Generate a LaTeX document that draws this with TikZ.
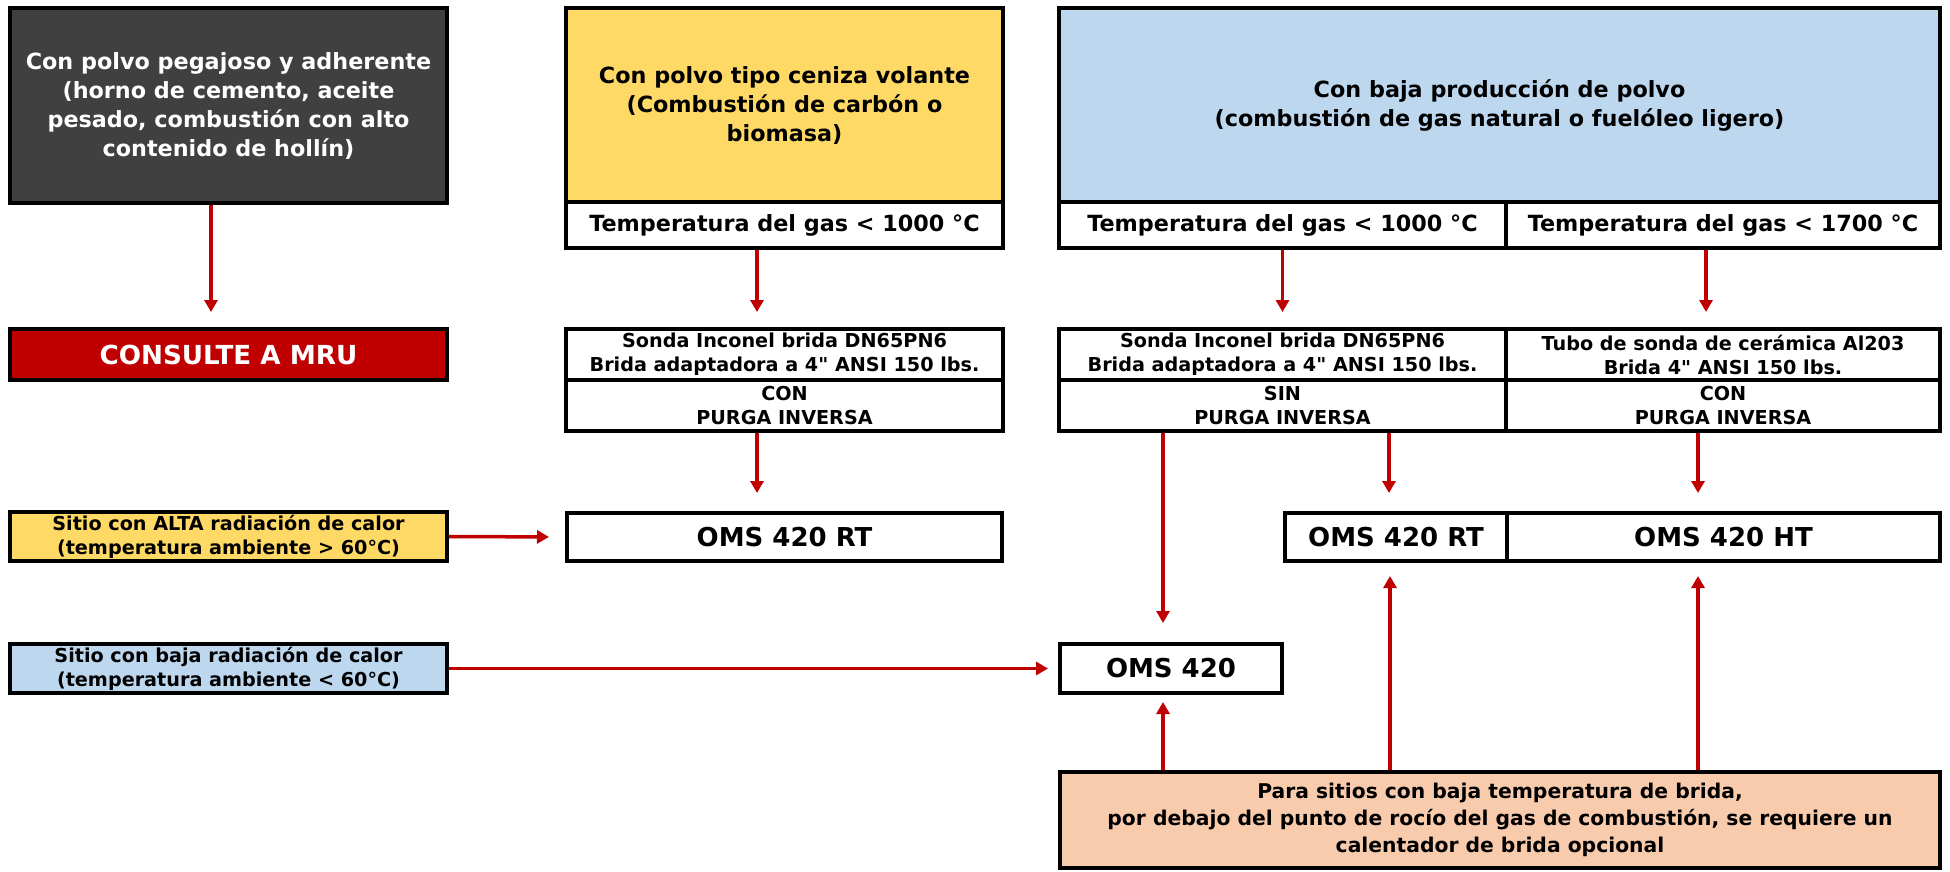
\documentclass[tikz,border=0pt]{standalone}
\usepackage{fontspec}
\setmainfont{DejaVu Sans}
\newfontfamily\qfont{DejaVu Sans}
\newcommand{\dq}{{\qfont\symbol{34}}}
\usetikzlibrary{arrows.meta}
\definecolor{cdark}{HTML}{404040}
\definecolor{cyellow}{HTML}{FFD966}
\definecolor{cblue}{HTML}{BDD7EE}
\definecolor{cred}{HTML}{C00000}
\definecolor{cpeach}{HTML}{F8CBAD}
\tikzset{
  box/.style={draw=black, line width=4pt, inner sep=1pt, align=center, anchor=center},
  fbig/.style={font=\fontsize{22.3}{29}\selectfont\bfseries},
  fmid/.style={font=\fontsize{19.2}{24}\selectfont\bfseries},
  foms/.style={font=\fontsize{26}{30}\selectfont\bfseries},
  arr/.style={draw=cred, line width=3.5pt, -{Triangle[width=13pt,length=12pt]}},
}
\begin{document}
\begin{tikzpicture}[x=1pt,y=-1pt]
\useasboundingbox (0,0) rectangle (1950,872);
% column 1
\node[box, fbig, fill=cdark, text=white, minimum width=437pt, minimum height=195pt] (dark) at (228.5,105.5)
  {Con polvo pegajoso y adherente\\(horno de cemento, aceite\\pesado, combustión con alto\\contenido de hollín)};
\node[box, font=\fontsize{26.2}{30}\selectfont\bfseries, fill=cred, text=white, minimum width=437pt, minimum height=51pt] (mru) at (228.5,354.5) {CONSULTE A MRU};
\node[box, fmid, fill=cyellow, minimum width=437pt, minimum height=49pt] (alta) at (228.5,536.5)
  {Sitio con ALTA radiación de calor\\(temperatura ambiente > 60°C)};
\node[box, fmid, fill=cblue, minimum width=437pt, minimum height=49pt] (baja) at (228.5,668.5)
  {Sitio con baja radiación de calor\\(temperatura ambiente < 60°C)};
% column 2
\node[box, fbig, fill=cyellow, minimum width=437pt, minimum height=194pt] (ytop) at (784.5,105)
  {Con polvo tipo ceniza volante\\(Combustión de carbón o\\biomasa)};
\node[box, fbig, fill=white, minimum width=437pt, minimum height=46pt] (ytemp) at (784.5,225)
  {Temperatura del gas < 1000 °C};
\node[box, fmid, fill=white, minimum width=437pt, minimum height=51pt] (sonda1) at (784.5,354.5)
  {Sonda Inconel brida DN65PN6\\Brida adaptadora a 4\dq{} ANSI 150 lbs.};
\node[box, fmid, fill=white, minimum width=437pt, minimum height=51pt] (con1) at (784.5,405.5)
  {CON\\PURGA INVERSA};
\node[box, foms, fill=white, minimum width=435pt, minimum height=48pt] (rt1) at (784.5,537) {OMS 420 RT};
% column 3
\node[box, fbig, fill=cblue, minimum width=881pt, minimum height=194pt] (btop) at (1499.5,105)
  {Con baja producción de polvo\\(combustión de gas natural o fuelóleo ligero)};
\node[box, fbig, fill=white, minimum width=447pt, minimum height=46pt] (btemp1) at (1282.5,225)
  {Temperatura del gas < 1000 °C};
\node[box, fbig, fill=white, minimum width=434pt, minimum height=46pt] (btemp2) at (1723,225)
  {Temperatura del gas < 1700 °C};
\node[box, fmid, fill=white, minimum width=447pt, minimum height=51pt] (sonda2) at (1282.5,354.5)
  {Sonda Inconel brida DN65PN6\\Brida adaptadora a 4\dq{} ANSI 150 lbs.};
\node[box, fmid, fill=white, minimum width=447pt, minimum height=51pt] (sin) at (1282.5,405.5)
  {SIN\\PURGA INVERSA};
\node[box, fmid, fill=white, minimum width=434pt, minimum height=51pt] (tubo) at (1723,354.5)
  {Tubo de sonda de cerámica Al203\\Brida 4\dq{} ANSI 150 lbs.};
\node[box, fmid, fill=white, minimum width=434pt, minimum height=51pt] (con2) at (1723,405.5)
  {CON\\PURGA INVERSA};
\node[box, foms, fill=white, minimum width=222pt, minimum height=48pt] (rt2) at (1396,537) {OMS 420 RT};
\node[box, foms, fill=white, minimum width=433pt, minimum height=48pt] (ht) at (1723.5,537) {OMS 420 HT};
\node[box, foms, fill=white, minimum width=222pt, minimum height=49pt] (oms) at (1171,668.5) {OMS 420};
\node[box, font=\fontsize{20.3}{27}\selectfont\bfseries, fill=cpeach, minimum width=880pt, minimum height=96pt] (bottom) at (1500,820)
  {Para sitios con baja temperatura de brida,\\por debajo del punto de rocío del gas de combustión, se requiere un\\calentador de brida opcional};
% arrow start points
\coordinate (c1) at ([xshift=-17.5pt]dark.south);
\coordinate (c2) at ([xshift=-27.5pt]ytemp.south);
\coordinate (c3) at (btemp1.south);
\coordinate (c4) at ([xshift=-17pt]btemp2.south);
\coordinate (c5) at ([xshift=-27.5pt]con1.south);
\coordinate (c6) at ([xshift=106.5pt]sin.south);
\coordinate (c7) at ([xshift=-25pt]con2.south);
\coordinate (c8) at ([xshift=-119.5pt]sin.south);
\coordinate (c11) at ([xshift=-337pt]bottom.north);
\coordinate (c12) at ([xshift=-110pt]bottom.north);
\coordinate (c13) at ([xshift=198pt]bottom.north);
% arrows
\draw[arr, shorten >=15pt] (c1) -- (c1 |- mru.north);
\draw[arr, shorten >=15pt] (c2) -- (c2 |- sonda1.north);
\draw[arr, shorten >=15pt] (c3) -- (c3 |- sonda2.north);
\draw[arr, shorten >=15pt] (c4) -- (c4 |- tubo.north);
\draw[arr, shorten >=18pt] (c5) -- (c5 |- rt1.north);
\draw[arr, shorten >=18pt] (c6) -- (c6 |- rt2.north);
\draw[arr, shorten >=18pt] (c7) -- (c7 |- ht.north);
\draw[arr, shorten >=19pt] (c8) -- (c8 |- oms.north);
\draw[arr, shorten >=16pt] (alta.east) -- (rt1.west);
\draw[arr, shorten >=10pt] (baja.east) -- (oms.west);
\draw[arr, shorten >=7pt] (c11) -- (c11 |- oms.south);
\draw[arr, shorten >=13pt] (c12) -- (c12 |- rt2.south);
\draw[arr, shorten >=13pt] (c13) -- (c13 |- ht.south);
\end{tikzpicture}
\end{document}
